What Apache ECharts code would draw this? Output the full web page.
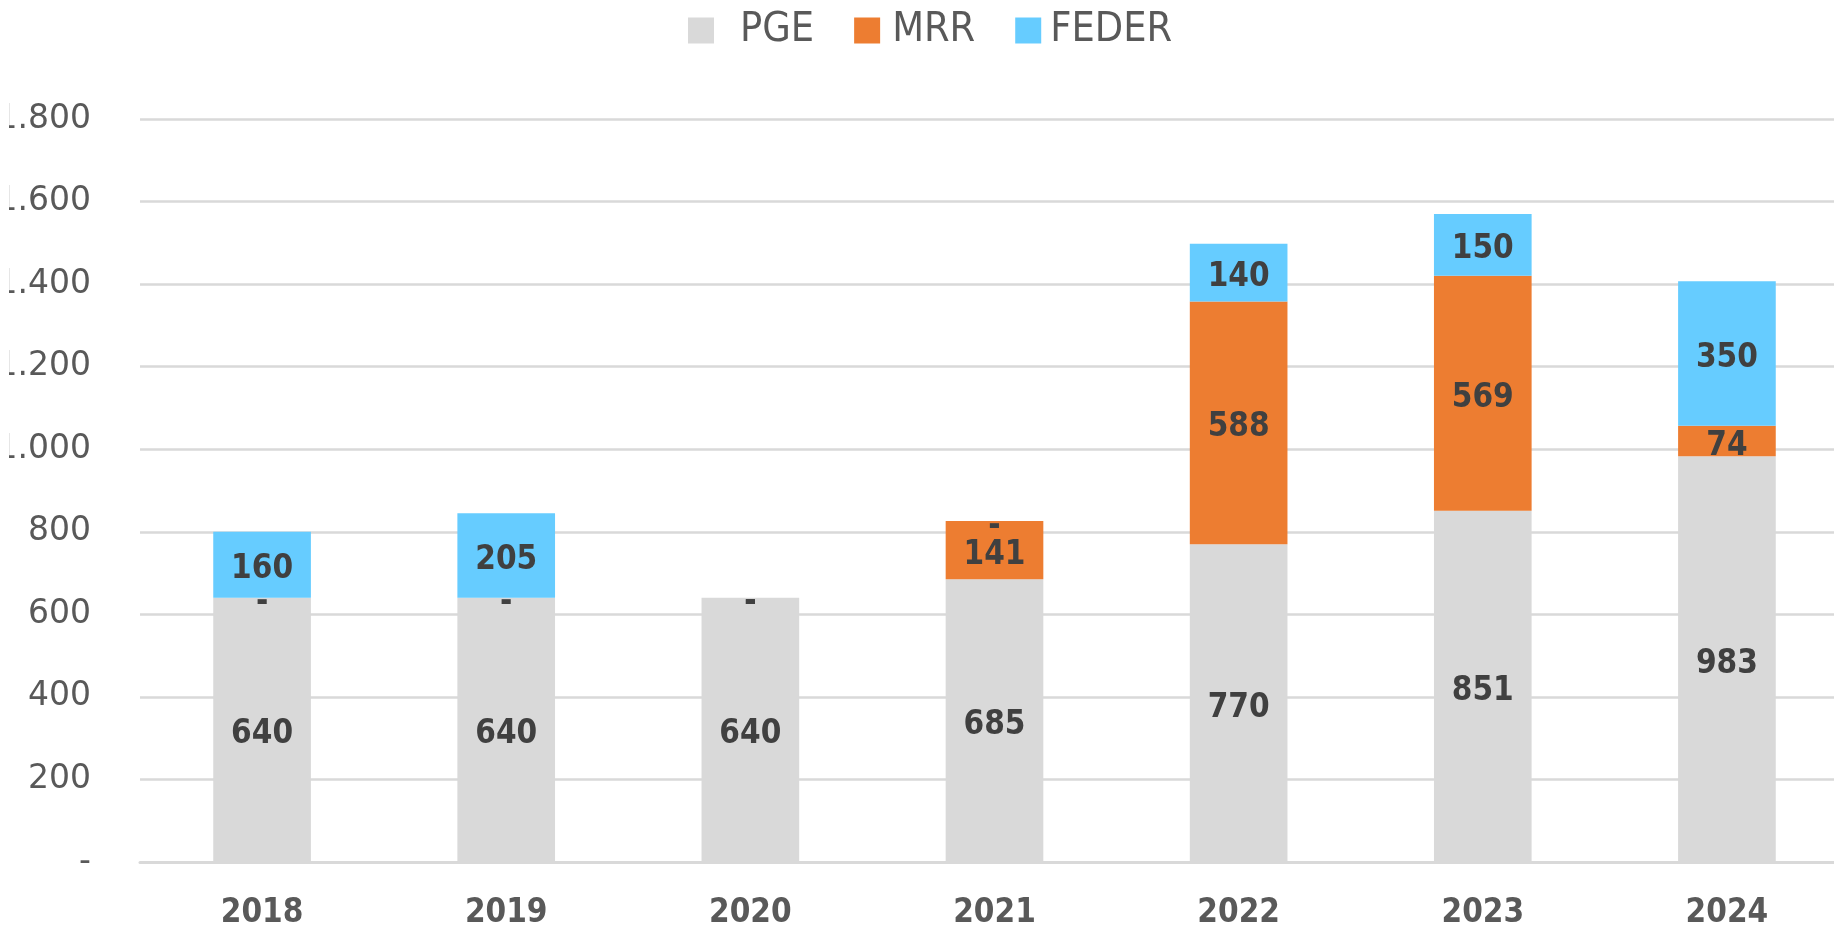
<!DOCTYPE html>
<html>
<head>
    <meta charset="utf-8" />
    <title>PGE MRR FEDER</title>
    <script src="https://cdn.jsdelivr.net/npm/echarts@6/dist/echarts.min.js"></script>
    <style>
        html, body { margin: 0; padding: 0; background: #fff; }
        #chart { width: 1834px; height: 931px; }
    </style>
</head>
<body>
    <div id="chart"></div>

    <script>
        // datos
        var years = ['2018', '2019', '2020', '2021', '2022', '2023', '2024'];
        var pge = [640, 640, 640, 685, 770, 851, 983];
        var mrr = [0, 0, 0, 141, 588, 569, 74];
        var feder = [160, 205, 0, 0, 140, 150, 350];
        var yTicks = [0, 200, 400, 600, 800, 1000, 1200, 1400, 1600, 1800];

        var colors = { PGE: '#d9d9d9', MRR: '#ed7d31', FEDER: '#66ccff' };

        // 1800 -> 1.800, 0 -> -
        function fmt(v) {
            if (v === 0) return '-';
            return String(v).replace(/\B(?=(\d{3})+(?!\d))/g, '.');
        }

        function makeSeries(name, data) {
            return {
                name: name,
                type: 'bar',
                stack: 'total',
                barWidth: '40%',
                data: data,
                itemStyle: { color: colors[name] },
                label: {
                    show: true,
                    position: 'inside',
                    offset: [0, 5],
                    color: '#404040',
                    fontFamily: 'DejaVu Sans Condensed',
                    fontWeight: 'bold',
                    fontSize: 33,
                    formatter: function (p) { return fmt(p.value); }
                }
            };
        }

        var chart = echarts.init(document.getElementById('chart'));
        chart.setOption({
            animation: false,
            legend: {
                top: 5,
                left: 683,
                itemWidth: 26,
                itemHeight: 26,
                itemGap: 40,
                icon: 'rect',
                textStyle: {
                    color: '#595959',
                    fontFamily: 'Liberation Sans Narrow, DejaVu Sans Condensed',
                    fontSize: 41
                },
                data: [
                    { name: 'PGE', textStyle: { padding: [0, 0, 0, 21] } },
                    { name: 'MRR', textStyle: { padding: [0, 0, 0, 7] } },
                    { name: 'FEDER', textStyle: { padding: [0, 0, 0, 4] } }
                ]
            },
            grid: {
                left: 140, right: -15, top: 119, bottom: 69,
                containLabel: false,
                outerBoundsMode: 'none'
            },
            xAxis: {
                type: 'category',
                data: years,
                axisLine: { lineStyle: { color: '#d9d9d9', width: 3 } },
                axisTick: { show: false },
                axisLabel: {
                    margin: 35,
                    color: '#595959',
                    fontFamily: 'DejaVu Sans Condensed',
                    fontWeight: 'bold',
                    fontSize: 33
                }
            },
            yAxis: {
                type: 'value',
                min: yTicks[0],
                max: yTicks[yTicks.length - 1],
                interval: yTicks[1] - yTicks[0],
                axisLine: { show: false },
                axisTick: { show: false },
                splitLine: { lineStyle: { color: '#d9d9d9', width: 2.5 } },
                axisLabel: {
                    margin: 49,
                    color: '#595959',
                    fontFamily: 'DejaVu Sans',
                    fontSize: 33,
                    formatter: fmt
                }
            },
            // el borde izquierdo de la imagen original corta el "1" de 1.800
            graphic: [{
                type: 'rect',
                left: 0,
                top: 0,
                z: 100,
                shape: { width: 9, height: 931 },
                style: { fill: '#fff' }
            }],
            series: [
                makeSeries('PGE', pge),
                makeSeries('MRR', mrr),
                makeSeries('FEDER', feder)
            ]
        });

        window.onresize = function () {
            chart.resize();
        };
    </script>
</body>
</html>
